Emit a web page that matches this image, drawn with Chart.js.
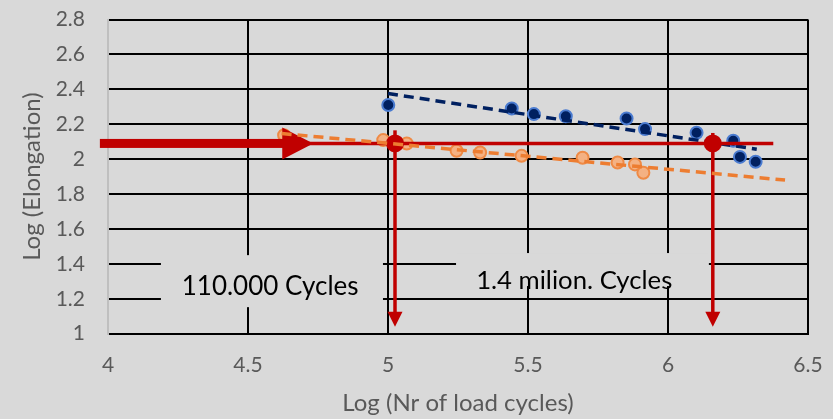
<!DOCTYPE html>
<html>
<head>
<meta charset="utf-8">
<script src="https://cdn.jsdelivr.net/npm/chart.js@4/dist/chart.umd.min.js"></script>
<style>
  html, body { margin: 0; padding: 0; background: #d9d9d9; }
  canvas { display: block; }
</style>
</head>
<body>
<canvas id="chart" width="833" height="419"></canvas>
<script>
// Log of load cycles vs log of elongation, two test series
const blueLogN   = [5.001, 5.442, 5.521, 5.635, 5.852, 5.918, 6.102, 6.233, 6.257, 6.313];
const blueLogE   = [2.310, 2.290, 2.258, 2.246, 2.233, 2.172, 2.151, 2.105, 2.013, 1.985];
const orangeLogN = [4.629, 4.983, 5.067, 5.245, 5.329, 5.477, 5.695, 5.820, 5.882, 5.912];
const orangeLogE = [2.137, 2.109, 2.090, 2.048, 2.038, 2.019, 2.008, 1.981, 1.970, 1.922];

// linear trend lines (end points)
const blueTrendN   = [5.000, 6.317];
const blueTrendE   = [2.376, 2.057];
const orangeTrendN = [4.620, 6.418];
const orangeTrendE = [2.147, 1.880];

// reading of cycle counts at a fixed elongation
const readLevel  = 2.09;
const readArrowN = [3.971, 4.733];
const readLineN  = [4.700, 6.376];
const readPointN = [5.025, 6.160];
const dropTopE   = [2.165, 2.150];
const dropTipE   = 1.04;
const cycleLabels = ['110.000 Cycles', '1.4 milion. Cycles'];

// axis ticks
const xTicks      = [4, 4.5, 5, 5.5, 6, 6.5];
const xTickLabels = ['4', '4.5', '5', '5.5', '6', '6.5'];
const yTicks      = [1, 1.2, 1.4, 1.6, 1.8, 2, 2.2, 2.4, 2.6, 2.8];
const yTickLabels = ['1', '1.2', '1.4', '1.6', '1.8', '2', '2.2', '2.4', '2.6', '2.8'];

const pts = (xs, ys) => xs.map((x, i) => ({ x: x, y: ys[i] }));

const FONT = 'Lato, "Open Sans", sans-serif';
const RED = '#c00000';
const BG = '#d9d9d9';

// label boxes placed in axis units
const labelBoxes = [
  { text: cycleLabels[0], x0: 4.189, x1: 4.982, y0: 1.152, y1: 1.450, tx: 4.579, ty: 1.221, size: 26 },
  { text: cycleLabels[1], x0: 5.243, x1: 6.146, y0: 1.273, y1: 1.462, tx: 5.665, ty: 1.254, size: 25.7 }
];

// keep the plot area fixed by the layout padding alone
const noAutoPadding = s => {
  s.paddingTop = 0; s.paddingBottom = 0; s.paddingLeft = 0; s.paddingRight = 0;
};

const overlay = {
  id: 'overlay',
  beforeDatasetsDraw(chart) {
    const { ctx, scales: { x, y } } = chart;
    ctx.save();
    labelBoxes.forEach(b => {
      const l = x.getPixelForValue(b.x0), r = x.getPixelForValue(b.x1);
      const t = y.getPixelForValue(b.y1), btm = y.getPixelForValue(b.y0);
      ctx.fillStyle = BG;
      ctx.fillRect(l, t, r - l, btm - t);
    });
    labelBoxes.forEach(b => {
      ctx.fillStyle = '#000';
      ctx.font = b.size + 'px ' + FONT;
      ctx.textAlign = 'center';
      ctx.textBaseline = 'alphabetic';
      ctx.fillText(b.text, x.getPixelForValue(b.tx), y.getPixelForValue(b.ty));
    });
    ctx.restore();
  },
  afterDatasetDraw(chart, args) {
    if (args.index !== 1) return;
    const { ctx, scales: { x, y } } = chart;
    const X = v => x.getPixelForValue(v);
    const Y = v => y.getPixelForValue(v);
    const yl = Y(readLevel);
    ctx.save();
    ctx.fillStyle = RED;
    ctx.strokeStyle = RED;
    ctx.lineCap = 'butt';

    // thin horizontal guide
    ctx.lineWidth = 3.5;
    ctx.beginPath();
    ctx.moveTo(X(readLineN[0]), yl);
    ctx.lineTo(X(readLineN[1]), yl);
    ctx.stroke();

    // thick arrow from the elongation axis
    const x0 = X(readArrowN[0]), tip = X(readArrowN[1]);
    const headLen = 31, headHalf = 16;
    ctx.fillRect(x0, yl - 4.5, tip - headLen - x0 + 1, 9);
    ctx.beginPath();
    ctx.moveTo(tip - headLen, yl - headHalf);
    ctx.lineTo(tip, yl);
    ctx.lineTo(tip - headLen, yl + headHalf);
    ctx.closePath();
    ctx.fill();

    // drop arrows to the cycle axis
    readPointN.forEach((n, i) => {
      const px = X(n), top = Y(dropTopE[i]), tipY = Y(dropTipE);
      ctx.lineWidth = 3.5;
      ctx.beginPath();
      ctx.moveTo(px, top);
      ctx.lineTo(px, tipY - 12);
      ctx.stroke();
      ctx.beginPath();
      ctx.moveTo(px - 7.5, tipY - 15);
      ctx.lineTo(px + 7.5, tipY - 15);
      ctx.lineTo(px, tipY);
      ctx.closePath();
      ctx.fill();
      ctx.beginPath();
      ctx.arc(px, yl, 9, 0, Math.PI * 2);
      ctx.fill();
    });
    ctx.restore();
  }
};

new Chart(document.getElementById('chart'), {
  type: 'scatter',
  data: {
    datasets: [
      {
        label: 'orange trend',
        data: pts(orangeTrendN, orangeTrendE),
        showLine: true,
        borderColor: '#ed7d31',
        borderWidth: 3.5,
        borderDash: [10, 6],
        pointRadius: 0
      },
      {
        label: 'orange',
        data: pts(orangeLogN, orangeLogE),
        backgroundColor: '#f4b183',
        borderColor: '#ef8a45',
        borderWidth: 2,
        pointRadius: 6
      },
      {
        label: 'blue trend',
        data: pts(blueTrendN, blueTrendE),
        showLine: true,
        borderColor: '#002060',
        borderWidth: 3.5,
        borderDash: [10, 6],
        pointRadius: 0
      },
      {
        label: 'blue',
        data: pts(blueLogN, blueLogE),
        backgroundColor: '#002060',
        borderColor: '#4a7bd0',
        borderWidth: 2,
        pointRadius: 6
      }
    ]
  },
  options: {
    responsive: false,
    animation: false,
    events: [],
    layout: { padding: { top: 19.5, right: 25, left: 0, bottom: 0 } },
    plugins: { legend: { display: false }, tooltip: { enabled: false } },
    scales: {
      x: {
        type: 'linear',
        min: 4,
        max: 6.5,
        afterBuildTicks: s => { s.ticks = xTicks.map(v => ({ value: v })); },
        afterFit: s => { s.height = 85.3; noAutoPadding(s); },
        ticks: {
          callback: v => xTickLabels[xTicks.indexOf(v)],
          color: '#595959',
          font: { family: FONT, size: 21 },
          padding: 19,
          maxRotation: 0
        },
        grid: {
          color: c => (c.tick && c.tick.value === 4) ? 'rgba(0,0,0,0)' : '#000',
          lineWidth: 2,
          drawTicks: false
        },
        border: { color: '#000', width: 2 },
        title: {
          display: true,
          text: 'Log (Nr of load cycles)',
          color: '#595959',
          font: { family: FONT, size: 24 },
          padding: { top: 0, bottom: 1 }
        }
      },
      y: {
        type: 'linear',
        min: 1,
        max: 2.8,
        afterBuildTicks: s => { s.ticks = yTicks.map(v => ({ value: v })); },
        afterFit: s => { s.width = 108; noAutoPadding(s); },
        ticks: {
          callback: v => yTickLabels[yTicks.findIndex(t => Math.abs(t - v) < 1e-9)],
          color: '#595959',
          font: { family: FONT, size: 21 },
          padding: 23
        },
        grid: { color: '#000', lineWidth: 2, drawTicks: false },
        border: { color: '#bfbfbf', width: 2 },
        title: {
          display: true,
          text: 'Log (Elongation)',
          color: '#595959',
          font: { family: FONT, size: 24 },
          padding: { top: 18, bottom: 0 }
        }
      }
    }
  },
  plugins: [overlay]
});
</script>
</body>
</html>
